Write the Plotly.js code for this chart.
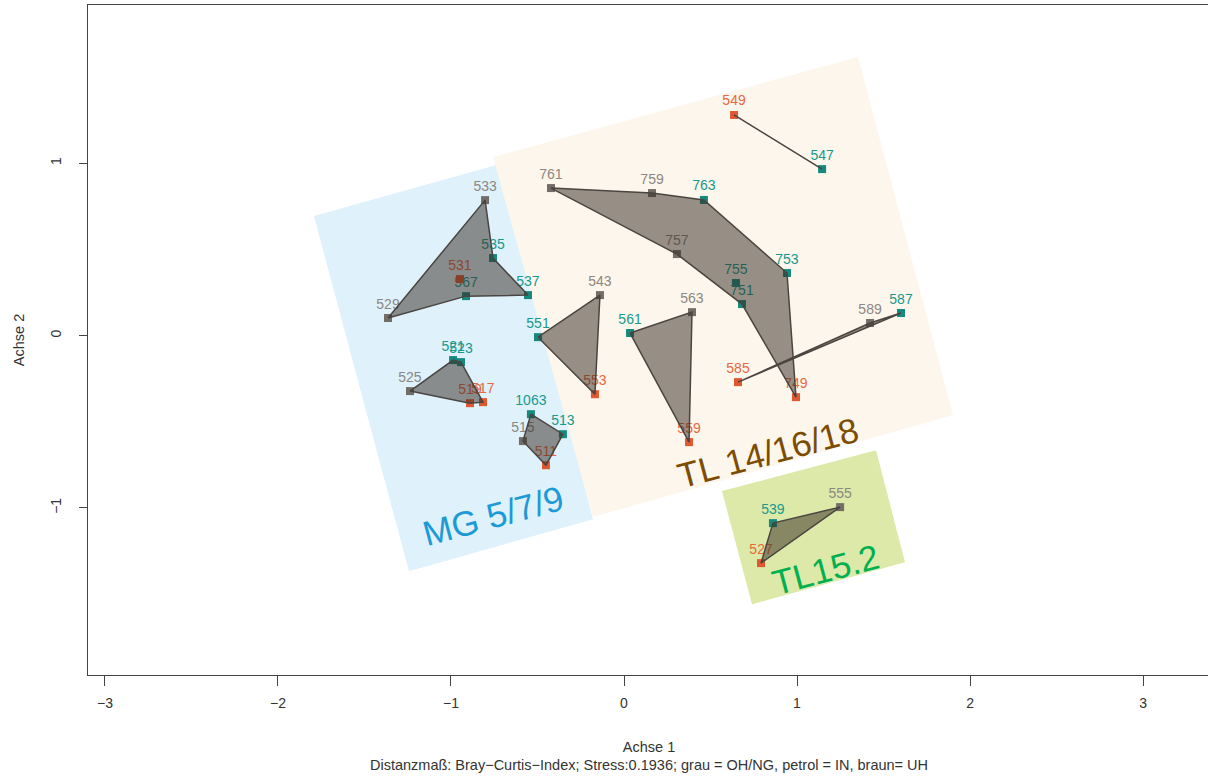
<!DOCTYPE html>
<html>
<head>
<meta charset="utf-8">
<script src="https://cdn.plot.ly/plotly-3.0.1.min.js"></script>
<style>
html, body { margin: 0; padding: 0; overflow: hidden; background: #fff; }
#chart { width: 1216px; height: 778px; }
</style>
</head>
<body>
<div id="chart"></div>
<script>
// ---- data (NMDS scores) ----
const sampleIds = ['549','547','761','759','763','757','753','755','751','749',
                   '533','535','531','567','537','529',
                   '525','521','523','519','517',
                   '1063','513','515','511',
                   '551','543','553',
                   '561','563','559',
                   '585','589','587',
                   '539','555','527'];
const sampleX = [0.636, 1.145, -0.422, 0.162, 0.462, 0.306, 0.942, 0.647, 0.682, 0.994,
                 -0.803, -0.757, -0.948, -0.913, -0.555, -1.364,
                 -1.237, -0.988, -0.942, -0.890, -0.815,
                 -0.538, -0.353, -0.584, -0.451,
                 -0.497, -0.139, -0.168,
                 0.035, 0.393, 0.376,
                 0.659, 1.422, 1.601,
                 0.861, 1.249, 0.792];
const sampleY = [1.280, 0.966, 0.856, 0.827, 0.787, 0.473, 0.363, 0.305, 0.183, -0.357,
                 0.786, 0.450, 0.328, 0.229, 0.235, 0.102,
                 -0.322, -0.142, -0.154, -0.392, -0.386,
                 -0.456, -0.572, -0.612, -0.752,
                 -0.009, 0.235, -0.340,
                 0.015, 0.136, -0.618,
                 -0.270, 0.073, 0.131,
                 -1.088, -0.995, -1.320];
// grau = OH/NG, petrol = IN, braun = UH
const sampleGroup = ['braun','petrol','grau','grau','petrol','grau','petrol','petrol','petrol','braun',
                     'grau','petrol','braun','petrol','petrol','grau',
                     'grau','petrol','petrol','braun','braun',
                     'petrol','petrol','grau','braun',
                     'petrol','grau','braun',
                     'petrol','grau','braun',
                     'braun','grau','petrol',
                     'petrol','grau','braun'];
const groupNames = ['grau','petrol','braun'];

// site polygons (vertex order)
const hulls = [
  ['529','533','535','537','567'],
  ['525','521','523','517','519'],
  ['1063','513','511','515'],
  ['551','543','553'],
  ['561','563','559'],
  ['761','759','763','753','749','751','757'],
  ['585','587','589'],
  ['549','547'],
  ['527','539','555']
];

// region labels
const regionLabels = ['MG 5/7/9','TL 14/16/18','TL15.2'];
const regionLabelX = [-0.757, 0.832, 1.162];
const regionLabelY = [-1.042, -0.676, -1.355];

// background region corners (data units)
const regionBlueX = [-1.792, -0.717, -0.179, -1.243];
const regionBlueY = [0.694, 0.995, -1.065, -1.367];
const regionCreamX = [-0.757, 1.353, 1.902, -0.179];
const regionCreamY = [1.036, 1.616, -0.461, -1.053];
const regionGreenX = [0.566, 1.457, 1.624, 0.740];
const regionGreenY = [-0.902, -0.665, -1.315, -1.558];

const xTicks = [-3,-2,-1,0,1,2,3];
const yTicks = [-1,0,1];

// ---- styles ----
const markerColor = {grau:'#736d68', petrol:'#16897f', braun:'#e0582f'};
const labelColor  = {grau:'#8c8782', petrol:'#17998c', braun:'#e8683f'};
const regionTextColor = ['#1b9ad6','#7c4c00','#00b050'];
const FONT = 'Liberation Sans, Arial, sans-serif';
const X_RANGE = [-3.098, 3.387];
const Y_RANGE = [-1.969, 1.918];

const traces = [];
groupNames.forEach(g => {
  const idx = sampleIds.map((_, i) => i).filter(i => sampleGroup[i] === g);
  traces.push({
    type: 'scatter', mode: 'markers+text',
    x: idx.map(i => sampleX[i]), y: idx.map(i => sampleY[i]),
    text: idx.map(i => sampleIds[i]),
    textposition: 'top center',
    textfont: {family: FONT, size: 14, color: labelColor[g]},
    marker: {symbol: 'square', size: 8, color: markerColor[g]},
    hoverinfo: 'text', showlegend: false, cliponaxis: false
  });
});
// polygons drawn on an overlaying axis pair so the translucent fill lies over points and labels
hulls.forEach(h => {
  const ids = h.concat([h[0]]);
  const xs = ids.map(id => sampleX[sampleIds.indexOf(id)]);
  const ys = ids.map(id => sampleY[sampleIds.indexOf(id)]);
  traces.push({
    type: 'scatter', mode: 'lines', x: xs, y: ys,
    xaxis: 'x2', yaxis: 'y2',
    fill: h.length > 2 ? 'toself' : 'none',
    fillcolor: 'rgba(50,40,30,0.5)',
    line: {color: '#4a4541', width: 1.5},
    hoverinfo: 'skip', showlegend: false
  });
});

function polyPath(xs, ys) {
  return 'M' + xs.map((x, i) => x + ',' + ys[i]).join(' L') + ' Z';
}

const layout = {
  width: 1216, height: 778,
  margin: {l: 88, r: 6, t: 5, b: 103},
  paper_bgcolor: '#ffffff', plot_bgcolor: 'rgba(0,0,0,0)',
  font: {family: FONT, size: 14, color: '#333333'},
  xaxis: {
    range: X_RANGE, tickvals: xTicks, ticktext: xTicks.map(v => v < 0 ? '\u2212' + Math.abs(v) : String(v)),
    ticks: 'outside', ticklen: 10, tickwidth: 1, tickcolor: '#444',
    showline: true, linecolor: '#444', linewidth: 1.3, mirror: true,
    showgrid: false, zeroline: false,
    tickfont: {family: FONT, size: 14, color: '#333'},
    ticklabelstandoff: 5,
    title: {text: 'Achse 1<br>Distanzmaß: Bray\u2212Curtis\u2212Index; Stress:0.1936; grau = OH/NG, petrol = IN, braun= UH',
            font: {family: FONT, size: 14.5, color: '#333'}, standoff: 31}
  },
  yaxis: {
    range: Y_RANGE, tickvals: yTicks, ticktext: yTicks.map(v => v < 0 ? '\u2212' + Math.abs(v) : String(v)),
    tickangle: -90,
    ticks: 'outside', ticklen: 8, tickwidth: 1, tickcolor: '#444',
    showline: true, linecolor: '#444', linewidth: 1.3, mirror: true,
    showgrid: false, zeroline: false,
    tickfont: {family: FONT, size: 14, color: '#333'},
    ticklabelstandoff: 12,
    title: {text: 'Achse 2', font: {family: FONT, size: 14.5, color: '#333'}, standoff: 20}
  },
  xaxis2: {overlaying: 'x', range: X_RANGE, visible: false, showgrid: false, zeroline: false},
  yaxis2: {overlaying: 'y', range: Y_RANGE, visible: false, showgrid: false, zeroline: false},
  shapes: [
    {type: 'path', xref: 'x', yref: 'y', layer: 'below', path: polyPath(regionBlueX, regionBlueY), fillcolor: '#dff1fb', line: {width: 0}},
    {type: 'path', xref: 'x', yref: 'y', layer: 'below', path: polyPath(regionCreamX, regionCreamY), fillcolor: '#fdf6ec', line: {width: 0}},
    {type: 'path', xref: 'x', yref: 'y', layer: 'below', path: polyPath(regionGreenX, regionGreenY), fillcolor: '#dce9a8', line: {width: 0}}
  ],
  annotations: regionLabels.map((t, i) => ({
    x: regionLabelX[i], y: regionLabelY[i], xref: 'x', yref: 'y',
    text: t, showarrow: false, textangle: -15,
    font: {family: FONT, size: 35, color: regionTextColor[i]}
  }))
};

Plotly.newPlot('chart', traces, layout, {displayModeBar: false, staticPlot: true});
</script>
</body>
</html>
